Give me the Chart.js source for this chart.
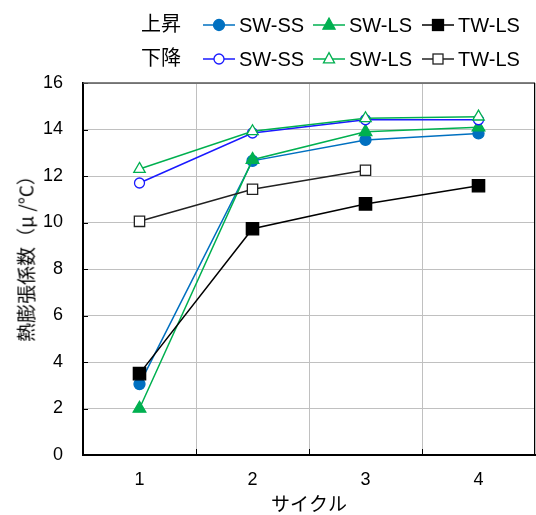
<!DOCTYPE html>
<html>
<head>
<meta charset="utf-8">
<script src="https://cdn.jsdelivr.net/npm/chart.js@4"></script>
<style>
  html, body { margin: 0; padding: 0; background: #fff; }
  #wrap { position: relative; width: 536px; height: 515px; font-family: "Liberation Sans", Arial, "Noto Sans CJK JP", sans-serif; }
  #chart { position: absolute; left: 0; top: 0; }
  .lg { position: absolute; font-size: 20px; line-height: 24px; color: #000; white-space: nowrap; }
  .lg svg { position: absolute; }
  .cjk { font-family: "Noto Sans CJK JP", sans-serif; }
  #ytitle { position: absolute; left: 25px; top: 254px; font-size: 19px; white-space: nowrap;
            transform: translate(-50%, -50%) rotate(-90deg); font-family: "Noto Sans CJK JP", sans-serif; }
</style>
</head>
<body>
<div id="wrap">
  <canvas id="chart" width="536" height="515"></canvas>
  <div id="legend"></div>
  <div id="ytitle">熱膨張係数（μ /°C）</div>
</div>
<script>
const cycles = ['1', '2', '3', '4'];
const yTicks = [0, 2, 4, 6, 8, 10, 12, 14, 16];

// 上昇
const upSWSS = [3.05, 12.65, 13.55, 13.83];
const upSWLS = [2.0, 12.7, 13.9, 14.1];
const upTWLS = [3.5, 9.73, 10.8, 11.58];
// 下降
const downSWSS = [11.7, 13.85, 14.42, 14.42];
const downSWLS = [12.3, 13.92, 14.48, 14.55];
const downTWLS = [10.05, 11.43, 12.25, null];

const groupLabels = ['上昇', '下降'];

const seriesDefs = [
    { label: 'SW-SS', data: upSWSS, color: '#0070C0', fill: '#0070C0', style: 'circle', radius: 5.5, group: 0 },
    { label: 'SW-LS', data: upSWLS, color: '#00B050', fill: '#00B050', style: 'triangle', radius: 7.3, group: 0 },
    { label: 'TW-LS', data: upTWLS, color: '#000000', fill: '#000000', style: 'rect', radius: 8.7, group: 0 },
    { label: 'SW-SS', data: downSWSS, color: '#1a1aff', fill: '#ffffff', style: 'circle', radius: 5, group: 1 },
    { label: 'SW-LS', data: downSWLS, color: '#00B050', fill: '#ffffff', style: 'triangle', radius: 6.6, group: 1 },
    { label: 'TW-LS', data: downTWLS, color: '#222222', fill: '#ffffff', style: 'rect', radius: 7.3, group: 1 }
];

const datasets = seriesDefs.map((s, i) => ({
    label: groupLabels[s.group] + ' ' + s.label,
    data: s.data,
    borderColor: s.color,
    backgroundColor: s.fill,
    pointBackgroundColor: s.fill,
    pointBorderColor: s.color,
    pointStyle: s.style,
    pointRadius: s.radius,
    pointHoverRadius: s.radius,
    pointBorderWidth: 1.3,
    borderWidth: 1.5,
    tension: 0,
    fill: false,
    order: seriesDefs.length - i
}));

// short black ticks pointing into the plot, plus top/right frame
const frame = {
    id: 'frame',
    afterDraw(chart) {
        const { ctx, chartArea: a, scales } = chart;
        ctx.save();
        ctx.strokeStyle = '#000';
        ctx.lineWidth = 1;
        yTicks.forEach(v => {
            const y = Math.round(scales.y.getPixelForValue(v)) + 0.5;
            ctx.beginPath();
            ctx.moveTo(a.left, y);
            ctx.lineTo(a.left + 5, y);
            ctx.stroke();
        });
        for (let i = 0; i < cycles.length - 1; i++) {
            const x = Math.round((scales.x.getPixelForValue(i) + scales.x.getPixelForValue(i + 1)) / 2) + 0.5;
            ctx.beginPath();
            ctx.moveTo(x, a.bottom);
            ctx.lineTo(x, a.bottom - 6);
            ctx.stroke();
        }
        ctx.strokeStyle = '#595959';
        ctx.lineWidth = 1.5;
        ctx.beginPath();
        ctx.moveTo(a.left, a.top);
        ctx.lineTo(a.right, a.top);
        ctx.stroke();
        ctx.strokeStyle = '#000';
        ctx.lineWidth = 1;
        ctx.beginPath();
        ctx.moveTo(a.right - 0.5, a.top);
        ctx.lineTo(a.right - 0.5, a.bottom);
        ctx.stroke();
        ctx.restore();
    }
};

new Chart(document.getElementById('chart').getContext('2d'), {
    type: 'line',
    data: { labels: cycles, datasets: datasets },
    options: {
        responsive: false,
        animation: false,
        layout: { autoPadding: false, padding: { top: 83, right: 1, left: 0, bottom: 0 } },
        plugins: { legend: { display: false }, tooltip: { enabled: false } },
        scales: {
            x: {
                offset: true,
                grid: { offset: true, color: '#c0c0c0', lineWidth: 1, drawTicks: false },
                border: { color: '#000', width: 2 },
                ticks: { color: '#000', font: { size: 18, family: '"Liberation Sans", Arial' }, padding: 14 },
                title: { display: true, text: 'サイクル', color: '#000',
                         font: { size: 19, family: '"Noto Sans CJK JP"' }, padding: { top: 0, bottom: 0 } },
                afterFit(scale) {
                    scale.height = 60;
                    scale.paddingLeft = 0;
                    scale.paddingRight = 0;
                }
            },
            y: {
                min: 0,
                max: 16,
                afterBuildTicks(scale) { scale.ticks = yTicks.map(v => ({ value: v })); },
                grid: { color: '#c0c0c0', lineWidth: 1, drawTicks: false },
                border: { color: '#000', width: 2 },
                ticks: { color: '#000', font: { size: 18, family: '"Liberation Sans", Arial' }, padding: 20 },
                afterFit(scale) {
                    scale.width = 83;
                    scale.paddingTop = 0;
                    scale.paddingBottom = 0;
                }
            }
        }
    },
    plugins: [frame]
});

// legend built from the same series
function markerSvg(s) {
    const w = 32, h = 18, cx = 16, cy = 9;
    let m = '';
    if (s.style === 'circle') {
        const r = s.group === 0 ? 5.5 : 5;
        m = `<circle cx="${cx}" cy="${cy}" r="${r}" fill="${s.fill}" stroke="${s.color}" stroke-width="1.3"/>`;
    } else if (s.style === 'triangle') {
        const r = s.group === 0 ? 7 : 6.4;
        const p = [[cx, cy - r], [cx + r * 0.866, cy + r * 0.6], [cx - r * 0.866, cy + r * 0.6]];
        m = `<polygon points="${p.map(q => q.join(',')).join(' ')}" fill="${s.fill}" stroke="${s.color}" stroke-width="1.3"/>`;
    } else {
        const d = s.group === 0 ? 5.5 : 5;
        m = `<rect x="${cx - d}" y="${cy - d}" width="${2 * d}" height="${2 * d}" fill="${s.fill}" stroke="${s.color}" stroke-width="1.3"/>`;
    }
    return `<svg width="${w}" height="${h}" viewBox="0 0 ${w} ${h}"><line x1="0" y1="${cy}" x2="${w}" y2="${cy}" stroke="${s.color}" stroke-width="1.5"/>${m}</svg>`;
}

const legendRowsY = [13, 47];
const legendItemX = [203, 313, 422];
const legendEl = document.getElementById('legend');
groupLabels.forEach((g, gi) => {
    const lab = document.createElement('div');
    lab.className = 'lg cjk';
    lab.style.left = '141px';
    lab.style.top = (legendRowsY[gi] - 2) + 'px';
    lab.textContent = g;
    legendEl.appendChild(lab);
    seriesDefs.filter(s => s.group === gi).forEach((s, k) => {
        const item = document.createElement('div');
        item.className = 'lg';
        item.style.left = legendItemX[k] + 'px';
        item.style.top = legendRowsY[gi] + 'px';
        item.innerHTML = `<span style="position:absolute;left:0;top:3px">${markerSvg(s)}</span><span style="position:absolute;left:36px;top:0">${s.label}</span>`;
        legendEl.appendChild(item);
    });
});
</script>
</body>
</html>
